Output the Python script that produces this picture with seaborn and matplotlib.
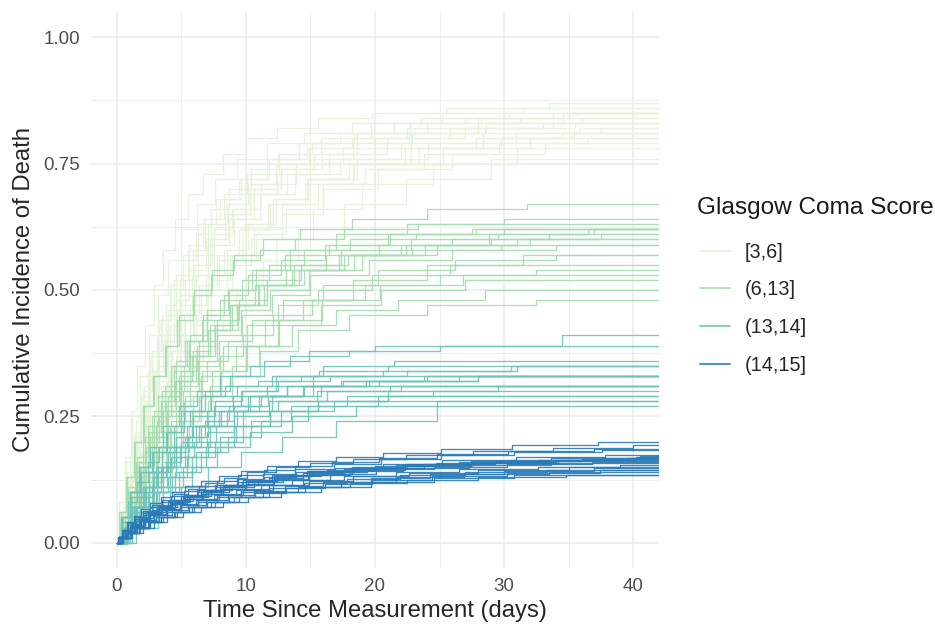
import matplotlib
matplotlib.use("Agg")
import matplotlib.pyplot as plt
from matplotlib.lines import Line2D
import numpy as np
import pandas as pd
import seaborn as sns

# groups of the Glasgow Coma Score and their colours
grupes = ['[3,6]', '(6,13]', '(13,14]', '(14,15]']
spalvos = ['#e4f3da', '#a6dcaf', '#6cc4b8', '#2a7ab8']
pabaiga = 42

# [3,6] - step times (days) and cumulative incidence after each step
gcs_3_6_t = [
    [0.3, 0.8, 1.4, 2.0, 2.7, 3.5, 4.4, 5.5, 6.8, 8.3, 10.1, 12.6, 15.8, 19.7, 25.2, 31.5],
    [0.5, 1.1, 1.7, 2.4, 3.1, 3.9, 4.9, 6.0, 7.4, 9.0, 11.2, 13.9, 17.5, 22.8, 28.6, 36.0],
    [0.4, 0.9, 1.6, 2.3, 3.0, 3.8, 4.7, 5.8, 7.1, 8.7, 10.6, 13.2, 16.4, 20.9, 27.0, 33.8],
    [0.2, 0.7, 1.2, 1.8, 2.5, 3.2, 4.0, 5.0, 6.2, 7.6, 9.3, 11.6, 14.5, 18.2, 23.6, 30.4],
    [0.6, 1.2, 1.9, 2.6, 3.4, 4.3, 5.3, 6.5, 7.9, 9.7, 11.9, 14.8, 18.6, 24.1, 30.9, 37.5],
    [0.4, 1.0, 1.7, 2.5, 3.3, 4.2, 5.2, 6.4, 7.8, 9.5, 11.7, 14.6, 18.3, 23.4, 29.8, 35.2],
    [0.7, 1.4, 2.2, 3.0, 3.9, 4.9, 6.0, 7.3, 8.9, 10.8, 13.1, 16.0, 19.9, 25.3, 32.0],
    [0.3, 0.8, 1.3, 1.9, 2.6, 3.3, 4.1, 5.1, 6.3, 7.7, 9.5, 11.8, 14.7, 18.6, 24.0, 31.2],
    [0.8, 1.6, 2.4, 3.3, 4.3, 5.4, 6.7, 8.2, 10.0, 12.3, 15.2, 19.0, 24.5, 31.0],
    [0.5, 1.0, 1.6, 2.2, 2.9, 3.7, 4.6, 5.6, 6.9, 8.4, 10.3, 12.7, 15.9, 20.0, 25.8, 33.0],
    [0.9, 1.8, 2.8, 3.8, 4.9, 6.1, 7.5, 9.2, 11.3, 14.0, 17.6, 22.4, 29.0],
    [0.2, 0.6, 1.1, 1.6, 2.2, 2.9, 3.6, 4.5, 5.5, 6.7, 8.2, 10.0, 12.4, 15.6, 19.8, 25.5, 33.5],
    [0.5, 1.1, 1.8, 2.5, 3.2, 4.0, 5.0, 6.1, 7.5, 9.1, 11.1, 13.8, 17.3, 22.0, 28.4, 35.8],
    [0.6, 1.3, 2.0, 2.8, 3.7, 4.6, 5.7, 7.0, 8.5, 10.4, 12.8, 16.0, 20.2, 26.0, 33.2],
    [0.3, 0.7, 1.2, 1.7, 2.3, 2.9, 3.6, 4.4, 5.3, 6.3, 7.5, 8.9, 10.6, 12.7, 15.3, 18.6, 22.9, 28.5, 35.5],
    [0.4, 0.9, 1.4, 2.0, 2.6, 3.3, 4.1, 5.0, 6.0, 7.2, 8.6, 10.3, 12.4, 15.0, 18.3, 22.6, 28.0, 34.6],
    [0.2, 0.6, 1.0, 1.5, 2.1, 2.7, 3.4, 4.2, 5.1, 6.1, 7.3, 8.7, 10.4, 12.5, 15.1, 18.4, 22.7, 28.2, 35.0],
    [0.5, 1.0, 1.6, 2.3, 3.0, 3.8, 4.7, 5.7, 6.9, 8.3, 10.0, 12.1, 14.7, 18.0, 22.3, 27.8, 34.5],
    [0.3, 0.8, 1.3, 1.9, 2.5, 3.2, 4.0, 4.9, 5.9, 7.1, 8.5, 10.2, 12.3, 14.9, 18.2, 22.5, 28.0, 35.0],
    [0.6, 1.2, 1.8, 2.5, 3.3, 4.1, 5.0, 6.1, 7.3, 8.8, 10.6, 12.8, 15.6, 19.2, 23.8, 29.6, 36.4],
    [0.4, 0.8, 1.3, 1.8, 2.4, 3.1, 3.8, 4.6, 5.6, 6.7, 8.0, 9.6, 11.6, 14.1, 17.3, 21.5, 27.0, 33.8],
    [0.5, 1.1, 1.7, 2.4, 3.2, 4.0, 4.9, 5.9, 7.1, 8.5, 10.2, 12.3, 15.0, 18.4, 22.8, 28.4, 35.4],
]
gcs_3_6_y = [
    [0.06, 0.14, 0.22, 0.30, 0.38, 0.45, 0.52, 0.58, 0.64, 0.69, 0.73, 0.77, 0.80, 0.83, 0.85, 0.86],
    [0.07, 0.14, 0.21, 0.28, 0.35, 0.42, 0.49, 0.55, 0.61, 0.66, 0.71, 0.75, 0.78, 0.81, 0.83, 0.84],
    [0.05, 0.12, 0.19, 0.26, 0.33, 0.40, 0.46, 0.53, 0.59, 0.64, 0.69, 0.73, 0.77, 0.80, 0.82, 0.83],
    [0.08, 0.16, 0.25, 0.33, 0.41, 0.49, 0.56, 0.62, 0.67, 0.72, 0.76, 0.79, 0.81, 0.83, 0.84, 0.85],
    [0.06, 0.12, 0.18, 0.25, 0.31, 0.38, 0.44, 0.50, 0.56, 0.62, 0.67, 0.72, 0.76, 0.79, 0.81, 0.82],
    [0.05, 0.11, 0.18, 0.25, 0.32, 0.38, 0.45, 0.51, 0.57, 0.62, 0.67, 0.71, 0.75, 0.78, 0.80, 0.81],
    [0.06, 0.12, 0.19, 0.25, 0.32, 0.38, 0.44, 0.50, 0.56, 0.61, 0.66, 0.71, 0.75, 0.78, 0.80],
    [0.06, 0.13, 0.21, 0.29, 0.37, 0.44, 0.51, 0.57, 0.63, 0.68, 0.72, 0.76, 0.79, 0.81, 0.83, 0.84],
    [0.06, 0.12, 0.18, 0.24, 0.30, 0.36, 0.42, 0.48, 0.54, 0.60, 0.66, 0.71, 0.75, 0.78],
    [0.06, 0.13, 0.20, 0.27, 0.34, 0.41, 0.48, 0.54, 0.60, 0.65, 0.70, 0.74, 0.77, 0.80, 0.82, 0.83],
    [0.06, 0.12, 0.19, 0.25, 0.32, 0.38, 0.44, 0.50, 0.56, 0.62, 0.67, 0.72, 0.76],
    [0.08, 0.17, 0.26, 0.35, 0.43, 0.51, 0.58, 0.64, 0.69, 0.73, 0.77, 0.80, 0.82, 0.84, 0.85, 0.86, 0.87],
    [0.05, 0.12, 0.19, 0.26, 0.33, 0.40, 0.47, 0.53, 0.59, 0.64, 0.69, 0.73, 0.76, 0.79, 0.81, 0.82],
    [0.05, 0.11, 0.18, 0.24, 0.31, 0.37, 0.43, 0.49, 0.55, 0.60, 0.65, 0.70, 0.74, 0.77, 0.79],
    [0.05, 0.10, 0.16, 0.22, 0.28, 0.34, 0.40, 0.46, 0.52, 0.57, 0.62, 0.66, 0.70, 0.74, 0.77, 0.79, 0.81, 0.82, 0.83],
    [0.06, 0.12, 0.18, 0.24, 0.31, 0.37, 0.43, 0.49, 0.55, 0.60, 0.65, 0.69, 0.73, 0.76, 0.79, 0.81, 0.83, 0.85],
    [0.05, 0.11, 0.17, 0.24, 0.31, 0.38, 0.44, 0.50, 0.56, 0.61, 0.66, 0.70, 0.74, 0.77, 0.79, 0.81, 0.83, 0.84, 0.85],
    [0.05, 0.11, 0.17, 0.23, 0.29, 0.35, 0.41, 0.47, 0.53, 0.58, 0.63, 0.68, 0.72, 0.75, 0.78, 0.80, 0.81],
    [0.06, 0.12, 0.19, 0.26, 0.33, 0.40, 0.46, 0.52, 0.58, 0.63, 0.67, 0.71, 0.75, 0.78, 0.80, 0.82, 0.84, 0.85],
    [0.05, 0.10, 0.16, 0.22, 0.28, 0.34, 0.40, 0.46, 0.52, 0.57, 0.62, 0.67, 0.71, 0.74, 0.77, 0.79, 0.80],
    [0.06, 0.13, 0.20, 0.27, 0.34, 0.41, 0.47, 0.53, 0.59, 0.64, 0.68, 0.72, 0.76, 0.79, 0.81, 0.83, 0.84, 0.85],
    [0.05, 0.11, 0.17, 0.23, 0.29, 0.35, 0.41, 0.47, 0.53, 0.58, 0.63, 0.68, 0.72, 0.75, 0.78, 0.80, 0.81],
]

# (6,13]
gcs_6_13_t = [
    [0.4, 1.0, 1.7, 2.5, 3.4, 4.4, 5.6, 7.0, 8.7, 10.8, 13.4, 17.0, 22.5, 30.0],
    [0.6, 1.3, 2.1, 3.0, 4.0, 5.1, 6.4, 7.9, 9.7, 12.0, 15.0, 19.5, 26.0, 34.0],
    [0.3, 0.9, 1.6, 2.4, 3.2, 4.2, 5.3, 6.7, 8.3, 10.2, 12.7, 16.1, 21.0, 27.5],
    [0.8, 1.7, 2.7, 3.8, 5.0, 6.4, 8.0, 10.0, 12.5, 15.8, 20.5, 27.0],
    [0.5, 1.1, 1.9, 2.7, 3.6, 4.6, 5.8, 7.2, 8.9, 11.0, 13.7, 17.4, 22.8, 29.5, 37.0],
    [0.7, 1.5, 2.3, 3.2, 4.2, 5.3, 6.6, 8.2, 10.1, 12.5, 15.6, 19.8, 25.8],
    [0.3, 0.8, 1.4, 2.1, 2.9, 3.8, 4.8, 6.0, 7.4, 9.1, 11.3, 14.2, 18.2, 24.0, 31.8],
    [1.0, 2.0, 3.1, 4.3, 5.6, 7.1, 8.9, 11.1, 14.0, 18.0, 24.0, 32.5],
    [0.5, 1.2, 2.0, 2.9, 3.9, 5.0, 6.3, 7.8, 9.6, 11.9, 14.9, 19.0, 24.8, 32.0],
    [0.4, 1.0, 1.8, 2.6, 3.5, 4.5, 5.7, 7.1, 8.8, 10.9, 13.6, 17.2, 22.0, 28.8, 36.5],
    [0.9, 1.8, 2.8, 3.9, 5.1, 6.5, 8.1, 10.1, 12.6, 15.9, 20.4, 26.8],
    [0.6, 1.3, 2.1, 2.9, 3.8, 4.9, 6.1, 7.6, 9.4, 11.6, 14.5, 18.4, 23.9, 31.0],
    [0.2, 0.7, 1.3, 2.0, 2.8, 3.7, 4.7, 5.9, 7.3, 9.0, 11.1, 13.8, 17.6, 23.3],
    [0.7, 1.6, 2.5, 3.5, 4.6, 5.9, 7.4, 9.2, 11.5, 14.4, 18.3, 24.0, 31.5],
    [0.4, 0.9, 1.5, 2.2, 3.0, 3.8, 4.8, 5.9, 7.2, 8.8, 10.7, 13.1, 16.2, 20.3, 26.0, 33.5],
    [0.6, 1.2, 1.9, 2.7, 3.6, 4.6, 5.7, 7.0, 8.6, 10.5, 12.9, 16.0, 20.2, 26.2, 34.0],
    [0.3, 0.8, 1.4, 2.0, 2.7, 3.5, 4.4, 5.4, 6.6, 8.0, 9.7, 11.8, 14.5, 18.1, 23.2, 30.0],
    [0.8, 1.6, 2.5, 3.5, 4.6, 5.8, 7.2, 8.9, 11.0, 13.6, 17.0, 21.8, 28.5],
    [0.5, 1.1, 1.8, 2.5, 3.3, 4.2, 5.2, 6.4, 7.8, 9.5, 11.6, 14.3, 17.9, 22.9, 29.8],
    [0.4, 1.0, 1.6, 2.3, 3.1, 4.0, 5.0, 6.2, 7.6, 9.3, 11.4, 14.1, 17.6, 22.4, 29.0, 37.5],
    [0.7, 1.4, 2.2, 3.1, 4.1, 5.2, 6.5, 8.0, 9.8, 12.1, 15.1, 19.2, 25.0, 32.5],
    [0.3, 0.9, 1.5, 2.2, 2.9, 3.7, 4.6, 5.7, 7.0, 8.6, 10.5, 13.0, 16.4, 21.2, 27.8],
]
gcs_6_13_y = [
    [0.05, 0.10, 0.16, 0.22, 0.28, 0.34, 0.40, 0.45, 0.50, 0.54, 0.58, 0.61, 0.63, 0.64],
    [0.04, 0.09, 0.14, 0.19, 0.25, 0.30, 0.35, 0.40, 0.45, 0.49, 0.53, 0.56, 0.58, 0.59],
    [0.05, 0.11, 0.17, 0.23, 0.29, 0.35, 0.40, 0.45, 0.49, 0.53, 0.56, 0.59, 0.61, 0.62],
    [0.04, 0.09, 0.14, 0.19, 0.24, 0.29, 0.34, 0.39, 0.43, 0.47, 0.50, 0.52],
    [0.05, 0.10, 0.15, 0.21, 0.26, 0.32, 0.37, 0.42, 0.47, 0.51, 0.55, 0.58, 0.60, 0.61, 0.62],
    [0.04, 0.09, 0.14, 0.19, 0.24, 0.29, 0.34, 0.39, 0.43, 0.47, 0.50, 0.53, 0.55],
    [0.06, 0.13, 0.20, 0.27, 0.33, 0.39, 0.45, 0.50, 0.54, 0.57, 0.60, 0.62, 0.64, 0.66, 0.67],
    [0.04, 0.08, 0.13, 0.18, 0.23, 0.28, 0.33, 0.38, 0.42, 0.45, 0.47, 0.48],
    [0.04, 0.09, 0.15, 0.20, 0.26, 0.31, 0.36, 0.41, 0.46, 0.50, 0.54, 0.57, 0.59, 0.60],
    [0.04, 0.10, 0.15, 0.21, 0.27, 0.32, 0.37, 0.42, 0.47, 0.51, 0.54, 0.57, 0.59, 0.61, 0.62],
    [0.04, 0.09, 0.14, 0.19, 0.24, 0.29, 0.34, 0.39, 0.44, 0.48, 0.51, 0.53],
    [0.05, 0.10, 0.15, 0.21, 0.26, 0.32, 0.37, 0.42, 0.47, 0.51, 0.54, 0.57, 0.59, 0.60],
    [0.06, 0.13, 0.20, 0.27, 0.33, 0.39, 0.44, 0.49, 0.53, 0.56, 0.58, 0.60, 0.62, 0.63],
    [0.04, 0.09, 0.14, 0.19, 0.24, 0.29, 0.34, 0.39, 0.44, 0.48, 0.52, 0.55, 0.57],
    [0.04, 0.08, 0.13, 0.18, 0.23, 0.28, 0.33, 0.38, 0.43, 0.47, 0.51, 0.54, 0.57, 0.59, 0.60, 0.61],
    [0.04, 0.08, 0.12, 0.17, 0.22, 0.27, 0.32, 0.36, 0.40, 0.44, 0.48, 0.51, 0.54, 0.56, 0.57],
    [0.05, 0.10, 0.15, 0.20, 0.25, 0.30, 0.35, 0.40, 0.44, 0.48, 0.52, 0.55, 0.58, 0.60, 0.61, 0.62],
    [0.04, 0.08, 0.12, 0.16, 0.21, 0.26, 0.31, 0.35, 0.39, 0.43, 0.46, 0.48, 0.50],
    [0.05, 0.10, 0.15, 0.20, 0.25, 0.30, 0.35, 0.40, 0.44, 0.48, 0.52, 0.55, 0.57, 0.58, 0.59],
    [0.04, 0.09, 0.14, 0.19, 0.24, 0.29, 0.34, 0.39, 0.43, 0.47, 0.51, 0.54, 0.57, 0.59, 0.60, 0.61],
    [0.04, 0.08, 0.13, 0.18, 0.23, 0.28, 0.33, 0.37, 0.41, 0.45, 0.48, 0.51, 0.53, 0.54],
    [0.05, 0.10, 0.16, 0.21, 0.26, 0.31, 0.36, 0.41, 0.46, 0.50, 0.54, 0.57, 0.59, 0.61, 0.62],
]

# (13,14]
gcs_13_14_t = [
    [0.5, 1.3, 2.2, 3.2, 4.4, 5.8, 7.5, 9.6, 12.3, 16.0, 21.5],
    [0.8, 1.8, 2.9, 4.1, 5.5, 7.2, 9.3, 12.0, 15.8],
    [0.4, 1.1, 1.9, 2.8, 3.9, 5.2, 6.8, 8.8, 11.4, 14.9, 20.0, 34.5],
    [1.0, 2.2, 3.6, 5.1, 6.9, 9.1, 11.9, 15.6, 21.0],
    [0.6, 1.5, 2.5, 3.6, 4.9, 6.5, 8.5, 11.0, 14.4, 19.5, 28.0],
    [0.3, 1.0, 1.8, 2.7, 3.8, 5.0, 6.5, 8.4, 10.9, 14.3],
    [1.2, 2.6, 4.1, 5.8, 7.8, 10.3, 13.6, 18.5],
    [0.5, 1.2, 2.0, 3.0, 4.1, 5.4, 7.0, 9.0, 11.6, 15.2, 20.6, 30.5],
    [0.7, 1.6, 2.7, 3.9, 5.3, 7.0, 9.1, 11.8, 15.5, 21.2],
    [0.4, 1.0, 1.7, 2.6, 3.6, 4.8, 6.2, 8.0, 10.3, 13.4, 18.0, 25.0],
    [0.9, 2.0, 3.3, 4.8, 6.5, 8.6, 11.2, 14.8, 20.2],
    [0.6, 1.4, 2.3, 3.4, 4.6, 6.1, 7.9, 10.2, 13.2, 17.5, 24.0],
    [0.8, 1.9, 3.1, 4.5, 6.1, 8.0, 10.4, 13.5, 17.8, 24.5],
    [1.5, 3.2, 5.0, 7.1, 9.6, 12.8, 17.0, 24.8],
    [0.5, 1.1, 1.9, 2.8, 3.8, 5.0, 6.4, 8.1, 10.3, 13.2, 17.4, 23.8],
    [0.7, 1.5, 2.4, 3.4, 4.6, 6.0, 7.7, 9.8, 12.5, 16.3, 22.0],
    [0.4, 1.0, 1.7, 2.5, 3.5, 4.6, 5.9, 7.6, 9.7, 12.5, 16.5, 22.5, 31.0],
    [0.9, 1.9, 3.0, 4.3, 5.8, 7.6, 9.8, 12.7, 16.8],
    [0.6, 1.3, 2.1, 3.1, 4.2, 5.5, 7.1, 9.1, 11.7, 15.2, 20.3, 28.0],
    [0.3, 0.9, 1.6, 2.4, 3.3, 4.4, 5.7, 7.3, 9.3, 12.0, 15.7, 21.0],
    [0.8, 1.7, 2.8, 4.0, 5.4, 7.1, 9.2, 11.9, 15.6, 21.0, 29.5],
    [0.5, 1.2, 2.0, 2.9, 4.0, 5.3, 6.8, 8.7, 11.2, 14.5, 19.3, 26.5],
]
gcs_13_14_y = [
    [0.03, 0.07, 0.11, 0.15, 0.19, 0.23, 0.27, 0.30, 0.33, 0.35, 0.36],
    [0.03, 0.07, 0.11, 0.15, 0.19, 0.23, 0.26, 0.29, 0.31],
    [0.05, 0.09, 0.14, 0.18, 0.22, 0.26, 0.30, 0.33, 0.36, 0.38, 0.39, 0.41],
    [0.03, 0.07, 0.11, 0.15, 0.19, 0.23, 0.26, 0.28, 0.29],
    [0.03, 0.07, 0.11, 0.15, 0.19, 0.23, 0.26, 0.29, 0.31, 0.32, 0.33],
    [0.05, 0.10, 0.14, 0.18, 0.22, 0.26, 0.29, 0.31, 0.32, 0.33],
    [0.03, 0.07, 0.11, 0.15, 0.19, 0.22, 0.25, 0.27],
    [0.03, 0.07, 0.11, 0.15, 0.19, 0.23, 0.26, 0.29, 0.31, 0.33, 0.34, 0.35],
    [0.03, 0.07, 0.11, 0.15, 0.19, 0.22, 0.25, 0.28, 0.30, 0.31],
    [0.05, 0.10, 0.15, 0.19, 0.23, 0.27, 0.30, 0.33, 0.35, 0.37, 0.38, 0.39],
    [0.03, 0.06, 0.10, 0.14, 0.18, 0.21, 0.24, 0.27, 0.29],
    [0.03, 0.07, 0.11, 0.15, 0.19, 0.23, 0.26, 0.29, 0.31, 0.32, 0.33],
    [0.03, 0.06, 0.10, 0.14, 0.18, 0.21, 0.24, 0.27, 0.29, 0.30],
    [0.03, 0.07, 0.11, 0.15, 0.18, 0.21, 0.24, 0.28],
    [0.03, 0.06, 0.09, 0.13, 0.16, 0.20, 0.23, 0.26, 0.29, 0.31, 0.32, 0.33],
    [0.03, 0.06, 0.10, 0.13, 0.17, 0.20, 0.23, 0.26, 0.28, 0.30, 0.31],
    [0.03, 0.07, 0.10, 0.14, 0.18, 0.21, 0.25, 0.28, 0.30, 0.32, 0.33, 0.34, 0.35],
    [0.03, 0.06, 0.10, 0.13, 0.17, 0.20, 0.23, 0.26, 0.28],
    [0.03, 0.07, 0.10, 0.14, 0.17, 0.21, 0.24, 0.27, 0.29, 0.31, 0.32, 0.33],
    [0.04, 0.08, 0.12, 0.16, 0.19, 0.23, 0.26, 0.29, 0.31, 0.33, 0.34, 0.35],
    [0.03, 0.06, 0.10, 0.13, 0.17, 0.20, 0.23, 0.26, 0.28, 0.30, 0.31],
    [0.03, 0.07, 0.11, 0.14, 0.18, 0.21, 0.24, 0.27, 0.29, 0.31, 0.32, 0.33],
]

# (14,15]
gcs_14_15_t = [
    [0.3, 0.8, 1.4, 2.1, 2.9, 3.8, 4.9, 6.1, 7.5, 9.2, 11.2, 13.6, 16.5, 20.1, 24.6, 30.2, 36.8],
    [0.2, 0.6, 1.1, 1.7, 2.4, 3.2, 4.1, 5.2, 6.5, 8.0, 9.8, 12.0, 14.7, 18.0, 22.2, 27.5, 34.0],
    [0.4, 1.0, 1.7, 2.5, 3.4, 4.5, 5.8, 7.3, 9.1, 11.3, 14.0, 17.4, 21.6, 26.9, 33.5],
    [0.2, 0.5, 0.9, 1.4, 2.0, 2.7, 3.5, 4.4, 5.5, 6.8, 8.3, 10.1, 12.3, 15.0, 18.3, 22.4, 27.6, 33.8, 40.0],
    [0.3, 0.9, 1.5, 2.2, 3.0, 3.9, 5.0, 6.3, 7.8, 9.6, 11.8, 14.4, 17.6, 21.6, 26.5, 32.6, 39.0],
    [0.2, 0.7, 1.3, 2.0, 2.8, 3.7, 4.7, 5.9, 7.3, 8.9, 10.9, 13.3, 16.3, 20.0, 24.7, 30.5, 37.5],
    [0.5, 1.2, 2.0, 2.9, 3.9, 5.1, 6.5, 8.2, 10.2, 12.7, 15.8, 19.7, 24.6, 30.8],
    [0.1, 0.4, 0.8, 1.3, 1.9, 2.6, 3.4, 4.3, 5.3, 6.5, 7.9, 9.6, 11.6, 14.0, 17.0, 20.6, 25.1, 30.6, 37.3],
    [0.3, 0.8, 1.4, 2.1, 2.9, 3.9, 5.0, 6.3, 7.9, 9.8, 12.1, 14.9, 18.3, 22.6, 28.0, 35.0],
    [0.2, 0.6, 1.2, 1.8, 2.5, 3.3, 4.3, 5.4, 6.7, 8.2, 10.0, 12.2, 14.9, 18.2, 22.3, 27.4, 33.6, 40.5],
    [0.4, 1.0, 1.6, 2.4, 3.3, 4.3, 5.5, 6.9, 8.6, 10.6, 13.0, 16.0, 19.7, 24.3, 30.0, 37.0],
    [0.3, 0.7, 1.2, 1.9, 2.6, 3.5, 4.5, 5.7, 7.1, 8.7, 10.6, 12.9, 15.8, 19.4, 23.8, 29.3, 36.0],
    [0.2, 0.6, 1.1, 1.7, 2.3, 3.1, 4.0, 5.0, 6.2, 7.6, 9.3, 11.3, 13.8, 16.8, 20.5, 25.1, 30.8, 37.6],
    [0.5, 1.1, 1.8, 2.6, 3.6, 4.7, 6.0, 7.6, 9.5, 11.8, 14.6, 18.1, 22.5, 28.0, 34.8],
    [0.2, 0.6, 1.0, 1.5, 2.1, 2.8, 3.6, 4.5, 5.6, 6.9, 8.4, 10.2, 12.4, 15.1, 18.4, 22.5, 27.7, 34.2],
    [0.3, 0.8, 1.3, 1.9, 2.6, 3.4, 4.3, 5.4, 6.7, 8.2, 10.0, 12.2, 14.9, 18.2, 22.3, 27.4, 33.8, 40.2],
    [0.4, 0.9, 1.5, 2.2, 3.0, 3.9, 5.0, 6.3, 7.8, 9.6, 11.8, 14.5, 17.8, 21.9, 27.0, 33.3],
    [0.1, 0.5, 0.9, 1.4, 2.0, 2.6, 3.4, 4.2, 5.2, 6.4, 7.8, 9.4, 11.4, 13.8, 16.7, 20.3, 24.8, 30.3, 37.0],
    [0.3, 0.7, 1.2, 1.8, 2.5, 3.3, 4.2, 5.3, 6.6, 8.1, 9.9, 12.1, 14.8, 18.1, 22.2, 27.3, 33.6],
    [0.2, 0.6, 1.1, 1.7, 2.4, 3.2, 4.1, 5.1, 6.3, 7.7, 9.4, 11.4, 13.9, 16.9, 20.6, 25.2, 30.9, 37.8],
    [0.4, 1.0, 1.7, 2.5, 3.4, 4.4, 5.6, 7.0, 8.7, 10.7, 13.1, 16.1, 19.8, 24.4, 30.2, 37.4],
    [0.2, 0.7, 1.2, 1.8, 2.5, 3.3, 4.2, 5.3, 6.5, 8.0, 9.7, 11.8, 14.4, 17.6, 21.6, 26.5, 32.6, 39.5],
]
gcs_14_15_y = [
    [0.010, 0.020, 0.030, 0.045, 0.055, 0.065, 0.075, 0.085, 0.095, 0.105, 0.115, 0.125, 0.135, 0.145, 0.150, 0.155, 0.160],
    [0.012, 0.025, 0.037, 0.050, 0.062, 0.073, 0.084, 0.095, 0.105, 0.115, 0.124, 0.133, 0.141, 0.148, 0.154, 0.159, 0.163],
    [0.010, 0.020, 0.030, 0.040, 0.050, 0.060, 0.070, 0.080, 0.090, 0.100, 0.110, 0.120, 0.130, 0.135, 0.140],
    [0.012, 0.025, 0.038, 0.050, 0.062, 0.074, 0.085, 0.096, 0.107, 0.118, 0.129, 0.139, 0.149, 0.158, 0.166, 0.174, 0.181, 0.188, 0.193],
    [0.010, 0.022, 0.034, 0.045, 0.056, 0.066, 0.076, 0.086, 0.096, 0.106, 0.115, 0.124, 0.132, 0.139, 0.145, 0.150, 0.154],
    [0.011, 0.024, 0.036, 0.048, 0.060, 0.071, 0.082, 0.093, 0.104, 0.114, 0.124, 0.134, 0.143, 0.151, 0.158, 0.164, 0.168],
    [0.010, 0.020, 0.030, 0.040, 0.050, 0.060, 0.070, 0.080, 0.090, 0.100, 0.110, 0.120, 0.128, 0.134],
    [0.012, 0.026, 0.040, 0.053, 0.066, 0.078, 0.090, 0.101, 0.112, 0.122, 0.132, 0.142, 0.152, 0.161, 0.170, 0.178, 0.186, 0.193, 0.200],
    [0.011, 0.022, 0.033, 0.044, 0.055, 0.065, 0.075, 0.085, 0.095, 0.105, 0.114, 0.123, 0.131, 0.138, 0.144, 0.149],
    [0.011, 0.023, 0.035, 0.047, 0.059, 0.070, 0.081, 0.092, 0.103, 0.113, 0.123, 0.132, 0.141, 0.149, 0.156, 0.162, 0.167, 0.171],
    [0.010, 0.021, 0.032, 0.043, 0.054, 0.064, 0.074, 0.084, 0.094, 0.103, 0.112, 0.121, 0.129, 0.136, 0.142, 0.147],
    [0.011, 0.023, 0.035, 0.047, 0.058, 0.069, 0.080, 0.091, 0.101, 0.111, 0.121, 0.131, 0.140, 0.148, 0.155, 0.161, 0.165],
    [0.012, 0.024, 0.036, 0.048, 0.060, 0.071, 0.082, 0.093, 0.104, 0.115, 0.126, 0.136, 0.146, 0.156, 0.165, 0.173, 0.179, 0.184],
    [0.010, 0.020, 0.030, 0.040, 0.050, 0.060, 0.070, 0.080, 0.090, 0.100, 0.110, 0.118, 0.125, 0.130, 0.134],
    [0.010, 0.021, 0.032, 0.043, 0.054, 0.065, 0.075, 0.085, 0.095, 0.105, 0.114, 0.123, 0.132, 0.140, 0.147, 0.153, 0.158, 0.162],
    [0.011, 0.022, 0.033, 0.044, 0.055, 0.066, 0.077, 0.087, 0.097, 0.107, 0.117, 0.126, 0.135, 0.143, 0.151, 0.158, 0.164, 0.169],
    [0.010, 0.020, 0.031, 0.041, 0.051, 0.061, 0.071, 0.081, 0.091, 0.100, 0.109, 0.118, 0.126, 0.133, 0.139, 0.144],
    [0.011, 0.023, 0.035, 0.047, 0.059, 0.070, 0.081, 0.092, 0.103, 0.113, 0.123, 0.133, 0.143, 0.152, 0.160, 0.168, 0.175, 0.181, 0.186],
    [0.010, 0.021, 0.032, 0.043, 0.054, 0.065, 0.076, 0.086, 0.096, 0.106, 0.115, 0.124, 0.133, 0.141, 0.148, 0.154, 0.158],
    [0.011, 0.022, 0.034, 0.045, 0.057, 0.068, 0.079, 0.090, 0.100, 0.110, 0.120, 0.130, 0.139, 0.148, 0.156, 0.163, 0.169, 0.174],
    [0.010, 0.020, 0.030, 0.040, 0.050, 0.060, 0.070, 0.080, 0.090, 0.099, 0.108, 0.117, 0.125, 0.132, 0.138, 0.143],
    [0.011, 0.023, 0.034, 0.046, 0.057, 0.068, 0.079, 0.090, 0.100, 0.110, 0.120, 0.129, 0.138, 0.146, 0.153, 0.159, 0.164, 0.168],
]

laikai = [gcs_3_6_t, gcs_6_13_t, gcs_13_14_t, gcs_14_15_t]
reiksmes = [gcs_3_6_y, gcs_6_13_y, gcs_13_14_y, gcs_14_15_y]

# sudedame viska i viena lentele
eilutes = []
for g, grupe in enumerate(grupes):
    for k, (tt, yy) in enumerate(zip(laikai[g], reiksmes[g])):
        xs = [0] + tt + [pabaiga]
        ys = [0] + yy + [yy[-1]]
        for x, y in zip(xs, ys):
            eilutes.append({'laikas': x, 'incidencija': y, 'gcs': grupe, 'kreive': f'{g}_{k}'})
df = pd.DataFrame(eilutes)

sns.set_style('whitegrid', {'grid.color': '#ebebeb', 'axes.edgecolor': 'white'})
plt.rcParams['font.family'] = ['Liberation Sans', 'DejaVu Sans']

fig = plt.figure(figsize=(9.35, 6.26), dpi=100)
ax = fig.add_axes([0.0973, 0.0927, 0.6075, 0.8881])

sns.lineplot(data=df, x='laikas', y='incidencija', hue='gcs', hue_order=grupes,
             palette=spalvos, units='kreive', estimator=None, drawstyle='steps-post',
             linewidth=0.95, alpha=0.9, legend=False, ax=ax)

ax.set_xlim(-2, 42)
ax.set_ylim(-0.05, 1.05)
ax.set_xticks([0, 10, 20, 30, 40])
ax.set_xticks([5, 15, 25, 35], minor=True)
ax.set_yticks([0, 0.25, 0.5, 0.75, 1.0])
ax.set_yticks([0.125, 0.375, 0.625, 0.875], minor=True)
ax.set_yticklabels(['0.00', '0.25', '0.50', '0.75', '1.00'])
ax.grid(which='major', color='#ebebeb', linewidth=1.1)
ax.grid(which='minor', color='#ebebeb', linewidth=0.55)
ax.tick_params(which='both', length=0, labelsize=13.5, labelcolor='#4d4d4d')
ax.tick_params(axis='y', pad=8)
ax.tick_params(axis='x', pad=7.5)
for s in ax.spines.values():
    s.set_visible(False)
ax.set_xlabel('Time Since Measurement (days)', fontsize=17.2, labelpad=3)
ax.set_ylabel('Cumulative Incidence of Death', fontsize=17.2, labelpad=6)

# legendos pavadinimas atskirai, kad tarpai butu kaip originale
fig.text(0.7455, 1 - 208 / 626, 'Glasgow Coma Score', fontsize=17.6, va='center', ha='left',
         color='#1a1a1a')
rankenos = [Line2D([0], [0], color=c, lw=1.3, alpha=0.9) for c in spalvos]
ax.legend(rankenos, grupes, loc='upper left',
          bbox_to_anchor=(0.7487, 0.6126), bbox_transform=fig.transFigure,
          frameon=False, fontsize=14.3, handlelength=1.5,
          handletextpad=0.75, labelspacing=0.95, borderaxespad=0, borderpad=0)

fig.savefig('out.png', dpi=100)
